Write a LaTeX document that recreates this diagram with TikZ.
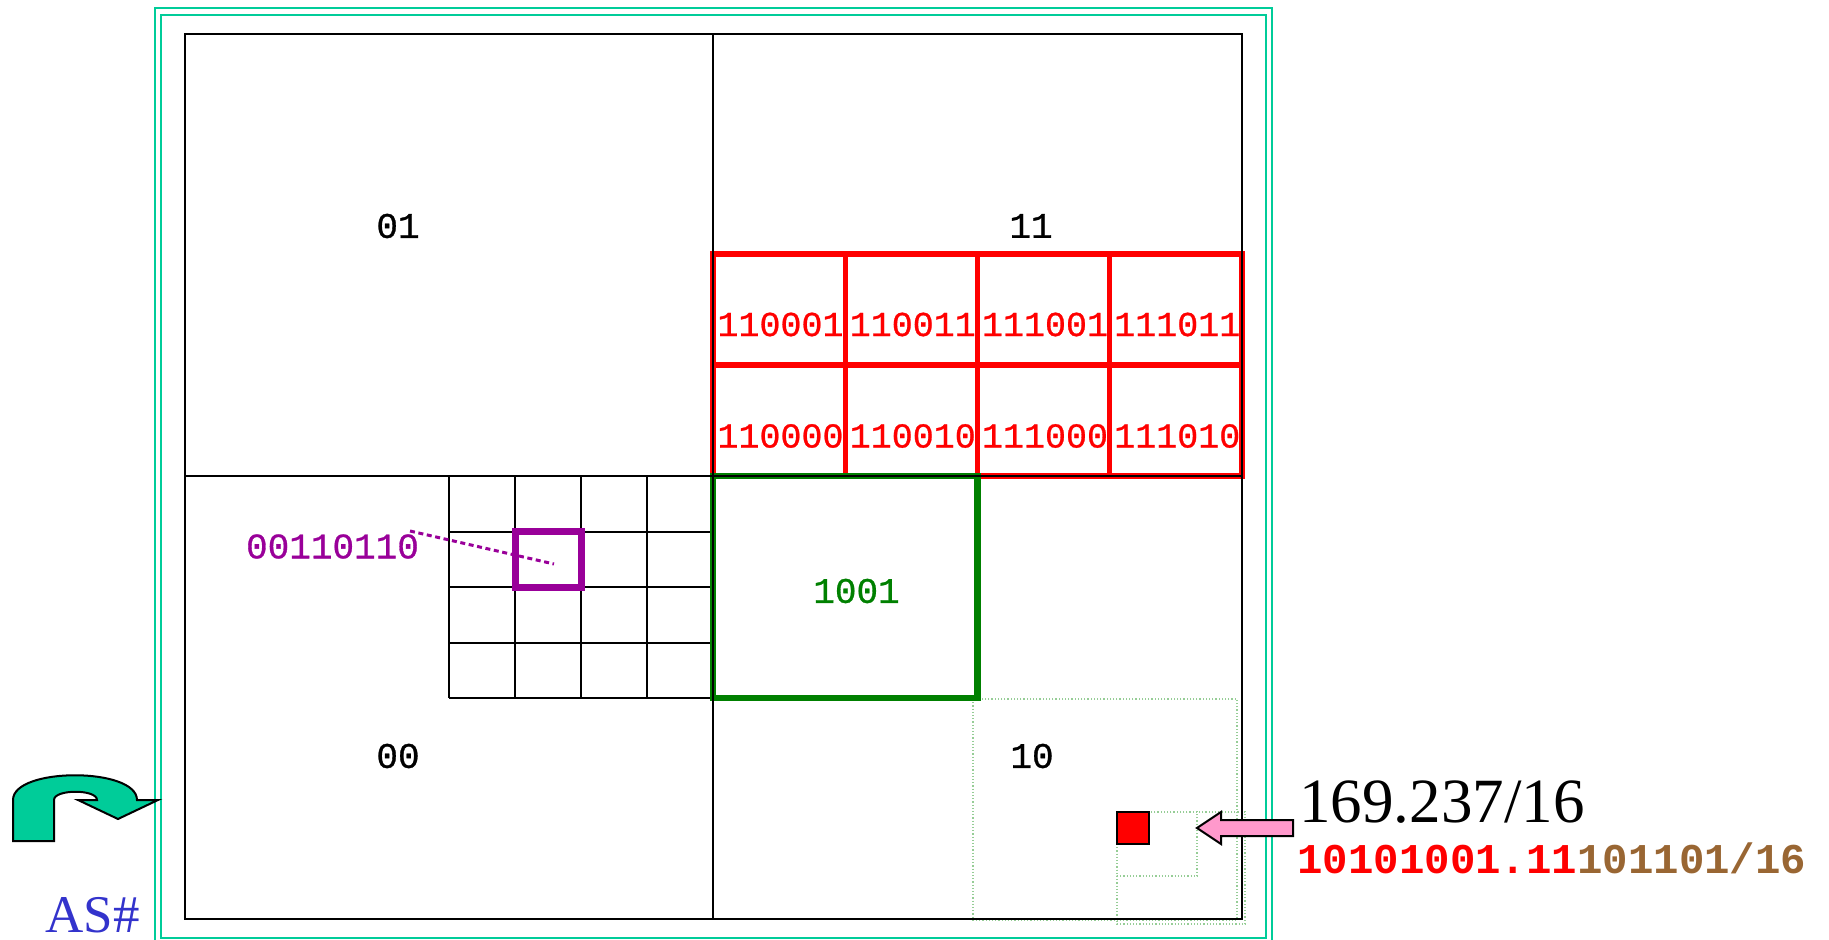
\documentclass[tikz,border=0pt]{standalone}
\usepackage{fontspec}
\setmainfont{Liberation Serif}
\setmonofont{Liberation Mono}
\newfontfamily\cellfont[FakeBold=0.8]{Liberation Mono}
\usepackage{tikz}
\definecolor{frameTeal}{RGB}{0, 204, 153}
\definecolor{cellRed}{RGB}{255, 0, 0}
\definecolor{cellGreen}{RGB}{0, 128, 0}
\definecolor{cellPurple}{RGB}{153, 0, 153}
\definecolor{arrowPink}{RGB}{255, 153, 204}
\definecolor{bitBrown}{RGB}{153, 102, 51}
\definecolor{asBlue}{RGB}{51, 51, 204}
\definecolor{faintGreen}{RGB}{150, 205, 150}

\begin{document}
\begin{tikzpicture}[x=0.5pt,y=-0.5pt,
    quadlbl/.style={font=\cellfont\fontsize{18}{18}\selectfont,inner sep=0pt},
    celllbl/.style={font=\cellfont\fontsize{17.5}{17.5}\selectfont,text=cellRed,inner sep=0pt},
    faint/.style={faintGreen,line width=0.6pt,densely dotted}]
    \useasboundingbox (0,0) rectangle (1829,940);
    \draw[frameTeal,line width=1.1pt] (155,8) rectangle (1272,946);
    \draw[frameTeal,line width=1.1pt] (161,15) rectangle (1266,938);
    \draw[faint] (973,699) rectangle (1237,920);
    \draw[faint] (1117,812) rectangle (1245,924);
    \draw[faint] (1117,812) rectangle (1197,876);
    \foreach \i in {0,...,4} {
       \draw[line width=1pt] (449+66*\i,476) -- ++(0,222);
       \draw[line width=1pt] (449,476+55.5*\i) -- ++(264,0);
     }
    \foreach \i in {0,...,3} {
       \foreach \j in {0,1} {
          \draw[cellRed,line width=2.6pt] (713+132.25*\i,254+111*\j) rectangle ++(132.25,111);
        }
     }
    \draw[cellGreen,line width=3.2pt] (713,476) rectangle (977.5,698);
    \draw[cellPurple,line width=3.5pt] (515,531.5) rectangle (581,587);
    \draw[line width=1pt] (185,34) rectangle (1242,919);
    \draw[line width=1pt] (713,34) -- (713,919);
    \draw[line width=1pt] (185,476) -- (1242,476);
    \foreach \i/\top/\bot in {0/110001/110000,1/110011/110010,2/111001/111000,3/111011/111010} {
       \node[celllbl] (rt\i) at (780.5+132.25*\i,324.5) {\top};
       \node[celllbl] (rb\i) at (780.5+132.25*\i,436) {\bot};
     }
    \node[quadlbl] (q01) at (398,226) {01};
    \node[quadlbl] (q11) at (1031,226) {11};
    \node[quadlbl] (q00) at (398,756) {00};
    \node[quadlbl] (q10) at (1032,756) {10};
    \node[quadlbl,text=cellGreen] (c1001) at (856.5,591) {1001};
    \node[quadlbl,text=cellPurple] (c00110110) at (332.5,546.5) {00110110};
    \coordinate (dotA) at (410,531);
    \coordinate (dotB) at (554,564);
    \draw[cellPurple,line width=1.5pt,dash pattern=on 2.5pt off 1.8pt] (dotA) -- (dotB);
    \draw[fill=cellRed,line width=1pt] (1117,812) rectangle (1149,844);
    \draw[fill=arrowPink,line width=1pt] (1197,828) -- (1221,812) -- (1221,820) -- (1293,820)
        -- (1293,836) -- (1221,836) -- (1221,844) -- cycle;
    \draw[fill=frameTeal,line width=1pt] (13,841) -- (13,800) .. controls (13,767) and (137,767) .. (137,800)
        -- (158,800) -- (118,819) -- (78,800) -- (97,800) .. controls (97,789) and (54,789) .. (54,800)
        -- (54,841) -- cycle;
    \node[anchor=base west,inner sep=0pt,font=\fontsize{31.5}{31.5}\selectfont] (prefix) at (1299,822) {169.237/16};
    \node[anchor=base west,inner sep=0pt,font=\ttfamily\bfseries\fontsize{21.2}{21.2}\selectfont] (bits) at (1297,873)
        {\textcolor{cellRed}{10101001.11}\textcolor{bitBrown}{101101/16}};
    \node[anchor=base west,inner sep=0pt,text=asBlue,font=\fontsize{26.5}{26.5}\selectfont] (asnum) at (45,932) {AS\#};
\end{tikzpicture}
\end{document}
